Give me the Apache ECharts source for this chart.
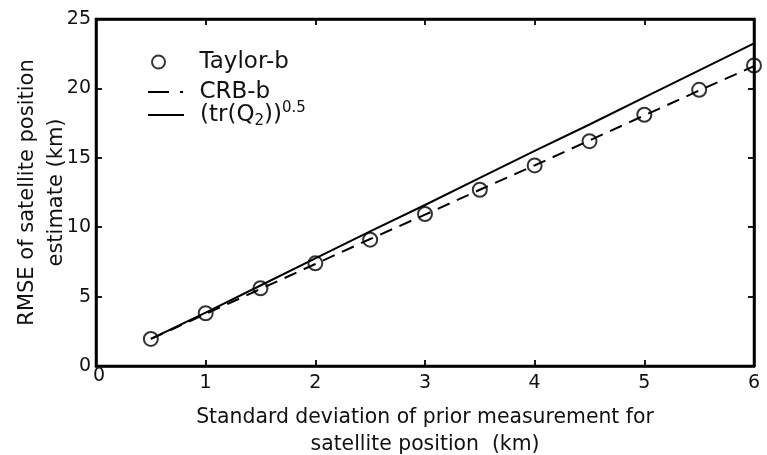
<!DOCTYPE html>
<html><head><meta charset="utf-8">
<script src="https://cdn.jsdelivr.net/npm/echarts@6/dist/echarts.min.js"></script>
<style>html,body{margin:0;padding:0;background:#fff}#c{width:767px;height:455px}</style>
</head><body><div id="c"></div>
<script>
// x positions (km)
const xValues = [0.5, 1, 1.5, 2, 2.5, 3, 3.5, 4, 4.5, 5, 5.5, 6];
// Taylor-b (circles)
const taylorB = [1.95, 3.8, 5.6, 7.4, 9.1, 10.95, 12.7, 14.45, 16.2, 18.1, 19.9, 21.65];
// CRB-b (dashed)
const crbB = [1.95, 3.75, 5.55, 7.35, 9.15, 10.9, 12.7, 14.45, 16.25, 18.05, 19.85, 21.6];
// (tr(Q2))^0.5 (solid)
const trQ2 = [1.95, 3.85, 5.8, 7.75, 9.7, 11.6, 13.55, 15.5, 17.4, 19.35, 21.3, 23.25];

const pairs = ys => xValues.map((x, i) => [x, ys[i]]);
const FONT = '"DejaVu Sans", sans-serif';
const TXT = '#111';

const chart = echarts.init(document.getElementById('c'), null, {renderer: 'canvas'});
const axisLineStyle = {color: '#000', width: 2.5};
const tickStyle = {show: true, inside: true, length: 6, lineStyle: {color: '#000', width: 1.8}};
const legendText = pad => ({fontFamily: FONT, fontSize: 23, color: TXT, lineHeight: 24, padding: [0, 0, 0, pad]});
const legendBase = {orient: 'vertical', left: 143, itemWidth: 36, selectedMode: false};
chart.setOption({
  animation: false,
  grid: {left: 96, right: 13, top: 19, bottom: 89, outerBoundsMode: 'none', containLabel: false,
         show: true, borderColor: '#000', borderWidth: 2.5, backgroundColor: 'transparent'},
  xAxis: [{
    type: 'value', min: 0, max: 6, interval: 1,
    name: 'Standard deviation of prior measurement for\nsatellite position  (km)',
    nameLocation: 'middle', nameGap: 38,
    nameTextStyle: {fontFamily: FONT, fontSize: 20.4, color: TXT, lineHeight: 27},
    axisLine: {show: true, lineStyle: axisLineStyle},
    axisTick: tickStyle,
    axisLabel: {
      fontFamily: FONT, fontSize: 19, color: TXT, margin: 8,
      formatter: v => (v === 0 ? '{z|0}' : String(v)),
      rich: {z: {fontFamily: FONT, fontSize: 19, color: TXT, lineHeight: 4, padding: [0, 0, 0, 6]}}
    },
    splitLine: {show: false}
  }, {
    type: 'value', min: 0, max: 6, interval: 1, position: 'top',
    axisLine: {show: true, onZero: false, lineStyle: axisLineStyle},
    axisTick: tickStyle,
    axisLabel: {show: false}, splitLine: {show: false}
  }],
  yAxis: [{
    type: 'value', min: 0, max: 25, interval: 5,
    name: 'RMSE of satellite position\nestimate (km)',
    nameLocation: 'middle', nameGap: 25, nameMoveOverlap: false,
    nameTextStyle: {fontFamily: FONT, fontSize: 21, color: TXT, lineHeight: 29},
    axisLine: {show: true, lineStyle: axisLineStyle},
    axisTick: tickStyle,
    axisLabel: {fontFamily: FONT, fontSize: 19, color: TXT, margin: 5},
    splitLine: {show: false}
  }, {
    type: 'value', min: 0, max: 25, interval: 5, position: 'right',
    axisLine: {show: true, onZero: false, lineStyle: axisLineStyle},
    axisTick: tickStyle,
    axisLabel: {show: false}, splitLine: {show: false}
  }],
  legend: [
    Object.assign({}, legendBase, {data: [{name: 'Taylor-b'}], left: 146, top: 45, itemHeight: 13, textStyle: legendText(18)}),
    Object.assign({}, legendBase, {
      data: [{name: 'CRB-b', icon: 'path://M0,0L21,0L21,2L0,2ZM32,0L35,0L35,2L32,2Z'}],
      top: 75, itemHeight: 2, itemStyle: {color: '#000'}, textStyle: legendText(11)
    }),
    Object.assign({}, legendBase, {
      data: [{name: 'trQ2', icon: 'rect'}], top: 96, itemHeight: 2, itemStyle: {color: '#000'},
      formatter: () => '(tr(Q{sub|2}))' + '{sup|0.5}',
      textStyle: Object.assign({}, legendText(11), {
        rich: {
          sub: {fontFamily: FONT, fontSize: 15, color: TXT, verticalAlign: 'bottom', lineHeight: 24, padding: [0, 0, -2, 0]},
          sup: {fontFamily: FONT, fontSize: 15, color: TXT, verticalAlign: 'top', lineHeight: 24, padding: [-2, 0, 0, 0]}
        }
      })
    })
  ],
  series: [{
    name: 'trQ2', type: 'line', data: pairs(trQ2),
    symbol: 'none', lineStyle: {color: '#000', width: 2}, itemStyle: {color: '#000'}, z: 2
  }, {
    name: 'CRB-b', type: 'line', data: pairs(crbB),
    symbol: 'none', lineStyle: {color: '#000', width: 2, type: [13, 8]}, itemStyle: {color: '#000'}, z: 2
  }, {
    name: 'Taylor-b', type: 'scatter', data: pairs(taylorB),
    symbol: 'circle', symbolSize: 14,
    itemStyle: {color: 'rgba(0,0,0,0)', borderColor: '#000', borderWidth: 2}, z: 3
  }]
});
</script></body></html>
